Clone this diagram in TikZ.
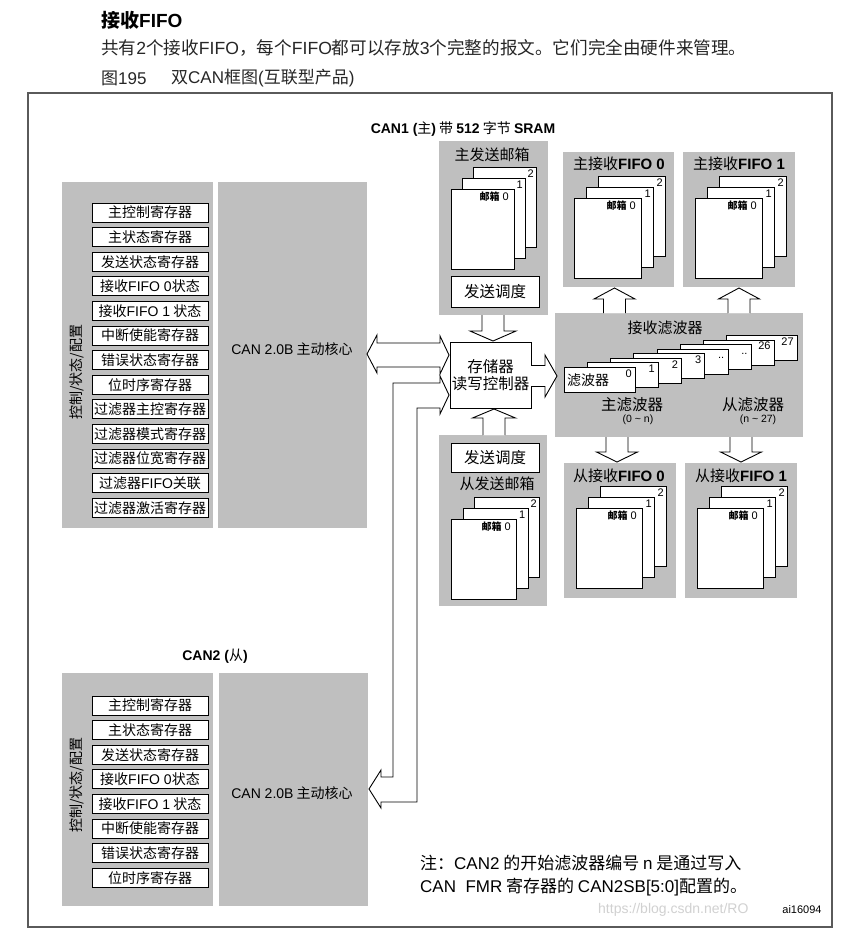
\documentclass[tikz,border=0pt]{standalone}
\usepackage{fontspec}
\setmainfont{Noto Sans CJK SC}
\newfontfamily\ls{Liberation Sans}
\definecolor{panel}{RGB}{191,191,191}
\definecolor{frame}{RGB}{90,90,90}
\newcommand\fs[1]{\fontsize{#1}{#1}\selectfont}
\newcommand\lat[1]{{\ls #1}}
\tikzset{
  reg/.style={draw, line width=0.9pt, fill=white, minimum width=116pt, minimum height=19pt, inner sep=0pt, font=\fs{14}},
  page/.style={draw, line width=0.9pt, fill=white, anchor=north west, inner sep=0pt},
  wbox/.style={draw, line width=0.9pt, fill=white, inner sep=0pt, font=\fs{15.5}},
  lbl/.style={inner sep=0pt, font=\ls\fs{11}},
  flbl/.style={inner sep=0pt, font=\ls\fs{11}, text height=8pt, text depth=0pt},
  txt/.style={inner sep=0pt},
  blk/.style={line width=0.9pt, fill=white, line join=miter}
}
\newcommand\mstack[6]{%
  \node[page,minimum width=#3,minimum height=#4] (#6c) at (#1+2*#5,#2-22) {};
  \node[page,minimum width=#3,minimum height=#4] (#6b) at (#1+#5,#2-11) {};
  \node[page,minimum width=#3,minimum height=#4] (#6a) at (#1,#2) {};
  \node[lbl,anchor=north east] (#6l0) at ([xshift=-6pt,yshift=-3pt]#6a.north east) {{\rmfamily\bfseries\fs{10}邮箱} 0};
  \node[lbl,anchor=north east] (#6l1) at ([xshift=-3pt,yshift=-3pt]#6b.north east) {1};
  \node[lbl,anchor=north east] (#6l2) at ([xshift=-3pt,yshift=-3pt]#6c.north east) {2};
}
\newcommand\vblk[6]{%
  \fill[white] (#1,#2) -- (#1+#5,#3) -- (#1+#6,#3) -- (#1+#6,#4) -- (#1-#6,#4) -- (#1-#6,#3) -- (#1-#5,#3) -- cycle;
  \draw[blk] (#1-#6,#4) -- (#1-#6,#3) -- (#1-#5,#3) -- (#1,#2) -- (#1+#5,#3) -- (#1+#6,#3) -- (#1+#6,#4);
}
\newcommand\hblk[6]{%
  \fill[white] (#2,#1) -- (#3,#1+#5) -- (#3,#1+#6) -- (#4,#1+#6) -- (#4,#1-#6) -- (#3,#1-#6) -- (#3,#1-#5) -- cycle;
  \draw[blk] (#4,#1-#6) -- (#3,#1-#6) -- (#3,#1-#5) -- (#2,#1) -- (#3,#1+#5) -- (#3,#1+#6) -- (#4,#1+#6);
}
\begin{document}
\begin{tikzpicture}[x=1pt,y=-1pt]
\useasboundingbox (0,0) rectangle (843,931);
\fill[white] (0,0) rectangle (843,931);

% header
\node[txt,anchor=west,font=\fs{19}\bfseries] (h1) at (101,20) {接收\lat{FIFO}};
\node[txt,anchor=west,font=\fs{17.6},color=black!85] (h2) at (101,48) {共有\lat{2}个接收\lat{FIFO}，每个\lat{FIFO}都可以存放\lat{3}个完整的报文。它们完全由硬件来管理。};
\node[txt,anchor=west,font=\fs{17},color=black!85] (h3) at (101,78) {图\lat{195}};
\node[txt,anchor=west,font=\fs{17},color=black!85] (h4) at (171,78) {双\lat{CAN}框图\lat{(}互联型产品\lat{)}};

% frame
\draw[frame, line width=1.2pt] (28,93) rectangle (832,927);

% ---------------- CAN1
\node[txt,font=\fs{14}] (t1) at (463,129) {\textbf{\lat{CAN1 (}}主\textbf{\lat{)}} 带 \textbf{\lat{512}} 字节 \textbf{\lat{SRAM}}};
\fill[panel] (62,182) rectangle (213,528);
\fill[panel] (218,182) rectangle (367,528);
\node[txt,rotate=90,font=\fs{14}] (v1) at (77,372) {控制/状态/配置};
\foreach \t [count=\i from 0] in {主控制寄存器,主状态寄存器,发送状态寄存器,接收\lat{FIFO 0}状态,接收\lat{FIFO 1} 状态,中断使能寄存器,错误状态寄存器,位时序寄存器,过滤器主控寄存器,过滤器模式寄存器,过滤器位宽寄存器,过滤器\lat{FIFO}关联,过滤器激活寄存器}
  \node[reg] (a\i) at (150,212.5+24.6*\i) {\t};
\node[txt,font=\fs{14}] (core1) at (292,349) {\lat{CAN 2.0B} 主动核心};

% master tx mailbox
\fill[panel] (439,141) rectangle (548,315);
\node[txt,font=\fs{15}] (mtxt) at (492,155) {主发送邮箱};
\mstack{451}{189}{63}{80}{11}{mt}
\node[wbox,minimum width=88,minimum height=31] (mts) at (495,291.5) {发送调度};

% master rx fifos
\fill[panel] (563,152) rectangle (674,287);
\node[txt,font=\fs{15}] (mf0t) at (619,164) {主接收\textbf{\lat{FIFO 0}}};
\mstack{574}{198}{67}{80}{12}{mfa}
\fill[panel] (683,152) rectangle (795,287);
\node[txt,font=\fs{15}] (mf1t) at (739,164) {主接收\textbf{\lat{FIFO 1}}};
\mstack{695}{198}{67}{80}{12}{mfb}

% filter bank
\fill[panel] (555,313) rectangle (803,437);
\node[txt,font=\fs{15}] (fbt) at (665,328) {接收滤波器};
\foreach \k/\t in {7/27,6/26,5/{..},4/{..},3/3,2/2,1/1,0/0} {
  \node[page,minimum width=71,minimum height=25] (f\k) at (564+23.14*\k,367-4.57*\k) {};
  \node[flbl,anchor=north east] (fl\k) at ([xshift=-4pt,yshift=-2pt]f\k.north east) {\t};
}
\node[txt,anchor=west,font=\fs{14}] (fname) at (567,380) {滤波器};
\node[txt,font=\fs{15.5}] (mflt) at (632,405) {主滤波器};
\node[txt,font=\ls\fs{10.5}] (mfltn) at (638,420) {(0 \textasciitilde\ n)};
\node[txt,font=\fs{15.5}] (sflt) at (753,405) {从滤波器};
\node[txt,font=\ls\fs{10.5}] (sfltn) at (758,420) {(n \textasciitilde\ 27)};

% slave rx fifos
\fill[panel] (564,463) rectangle (676,598);
\node[txt,font=\fs{15}] (sf0t) at (619,476) {从接收\textbf{\lat{FIFO 0}}};
\mstack{576}{508}{66}{80}{12}{sfa}
\fill[panel] (685,463) rectangle (797,598);
\node[txt,font=\fs{15}] (sf1t) at (741,476) {从接收\textbf{\lat{FIFO 1}}};
\mstack{697}{508}{66}{80}{12}{sfb}

% slave tx mailbox
\fill[panel] (439,435) rectangle (547,606);
\node[wbox,minimum width=88,minimum height=29] (sts) at (495,457.5) {发送调度};
\node[txt,font=\fs{15}] (stxt) at (497,484) {从发送邮箱};
\mstack{451}{519}{65}{80}{11.5}{st}

% memory controller
\node[draw,line width=0.9pt,fill=white,minimum width=81,minimum height=66,inner sep=0pt,align=center,font=\fs{15.5}] (mem) at (490.5,375) {存储器\\[1pt]读写控制器};

% block arrows
\vblk{493}{341}{331}{315}{23}{11}
\vblk{494}{409}{418}{435}{21.5}{11}
\vblk{614.5}{288}{299}{313}{20.5}{11}
\vblk{739}{288}{299}{313}{20.5}{11}
\vblk{617}{462}{452}{437}{20.5}{11}
\vblk{741}{462}{452}{437}{20.5}{11}
\hblk{376}{557}{545}{531}{21}{10.5}

% CAN1 <-> memory
\filldraw[blk] (367,354) -- (377,335) -- (377,343) -- (440,343) -- (440,336) -- (449,355) -- (440,374) -- (440,367) -- (377,367) -- (377,373) -- cycle;
% CAN2 <-> memory
\filldraw[blk] (449,395) -- (440,376) -- (440,383) -- (393,383) -- (393,777) -- (381,777) -- (381,770) -- (369,789) -- (381,808) -- (381,802) -- (417,802) -- (417,408) -- (440,408) -- (440,414) -- cycle;

% ---------------- CAN2
\node[txt,font=\fs{14}] (t2) at (215,656) {\textbf{\lat{CAN2 (}}从\textbf{\lat{)}}};
\fill[panel] (62,673) rectangle (213,906);
\fill[panel] (219,673) rectangle (368,906);
\node[txt,rotate=90,font=\fs{14}] (v2) at (77,785) {控制/状态/配置};
\foreach \t [count=\i from 0] in {主控制寄存器,主状态寄存器,发送状态寄存器,接收\lat{FIFO 0}状态,接收\lat{FIFO 1} 状态,中断使能寄存器,错误状态寄存器,位时序寄存器}
  \node[reg] (b\i) at (150,705.5+24.6*\i) {\t};
\node[txt,font=\fs{14}] (core2) at (292,793) {\lat{CAN 2.0B} 主动核心};

% note
\node[txt,anchor=west,font=\fs{17}] (n1) at (420,863) {注：\lat{CAN2} 的开始滤波器编号 \lat{n} 是通过写入};
\node[txt,anchor=west,font=\fs{17}] (n2) at (420,887) {\lat{CAN\ \ FMR} 寄存器的 \lat{CAN2SB[5:0]}配置的。};
\node[txt,anchor=west,font=\ls\fs{14},color=black!18] (wm) at (598,910) {https://blog.csdn.net/RO};
\node[txt,font=\ls\fs{11}] (ai) at (802,910) {ai16094};
\end{tikzpicture}
\end{document}
